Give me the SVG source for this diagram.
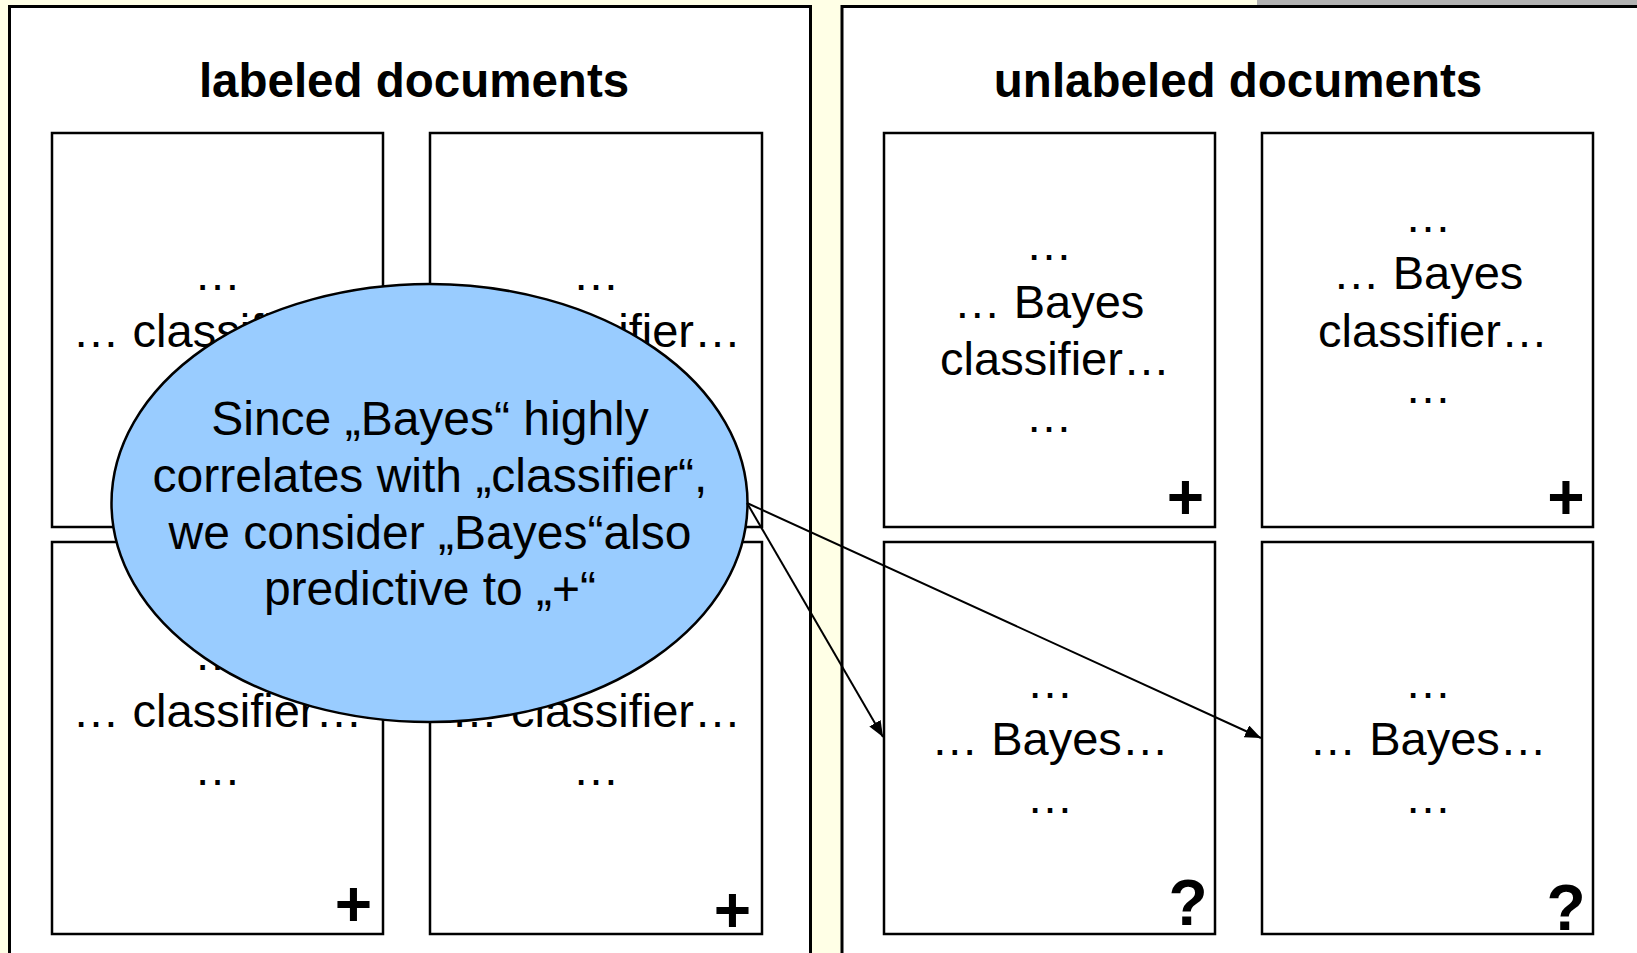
<svg xmlns="http://www.w3.org/2000/svg" width="1637" height="953" viewBox="0 0 1637 953">
  <defs>
    <style>
      .panel { fill: #FFFFFF; stroke: #000000; stroke-width: 3; }
      .doc { fill: #FFFFFF; stroke: #000000; stroke-width: 2.5; }
      .title { font-family: "Liberation Sans", Arial, sans-serif; font-weight: bold; font-size: 47.5px; fill: #000; text-anchor: middle; }
      .t { font-family: "Liberation Sans", Arial, sans-serif; font-size: 47px; fill: #000; text-anchor: middle; }
      .bubble { font-family: "Liberation Sans", Arial, sans-serif; font-size: 48px; fill: #000; text-anchor: middle; }
      .mark { font-family: "Liberation Sans", Arial, sans-serif; font-weight: bold; font-size: 64px; fill: #000; text-anchor: middle; }
      .conn { stroke: #000; stroke-width: 2; fill: none; marker-end: url(#arrow); }
    </style>
    <marker id="arrow" markerUnits="userSpaceOnUse" markerWidth="18" markerHeight="14" refX="16" refY="6.5" orient="auto">
      <path d="M0,0 L16,6.5 L0,13 z" fill="#000"/>
    </marker>
  </defs>

  <rect x="0" y="0" width="1637" height="953" fill="#FFFFE6"/>
  <rect x="1257" y="0" width="380" height="6" fill="#B2B2B2"/>

  <g id="panel-labeled">
    <rect class="panel" x="9.5" y="6.5" width="801" height="970"/>
    <text class="title" x="414" y="97">labeled documents</text>
  </g>
  <g id="panel-unlabeled">
    <rect class="panel" x="842" y="6.5" width="820" height="970"/>
    <text class="title" x="1238" y="97">unlabeled documents</text>
  </g>

  <g id="doc-l1">
    <rect class="doc" x="52" y="133" width="331" height="394"/>
    <text class="t" x="217.5" y="290">…</text>
    <text class="t" x="217.5" y="347">… classifier…</text>
  </g>
  <g id="doc-l2">
    <rect class="doc" x="430" y="133" width="332" height="394"/>
    <text class="t" x="596" y="290">…</text>
    <text class="t" x="596" y="347">… classifier…</text>
  </g>
  <g id="doc-l3">
    <rect class="doc" x="52" y="542" width="331" height="392"/>
    <text class="t" x="217.5" y="670">…</text>
    <text class="t" x="217.5" y="727">… classifier…</text>
    <text class="t" x="217.5" y="785">…</text>
    <text class="mark" x="353.5" y="926">+</text>
  </g>
  <g id="doc-l4">
    <rect class="doc" x="430" y="542" width="332" height="392"/>
    <text class="t" x="596" y="670">…</text>
    <text class="t" x="596" y="727">… classifier…</text>
    <text class="t" x="596" y="785">…</text>
    <text class="mark" x="732.5" y="932">+</text>
  </g>

  <g id="doc-u1">
    <rect class="doc" x="884" y="133" width="331" height="394"/>
    <text class="t" x="1049" y="260">…</text>
    <text class="t" x="1049" y="318">… Bayes</text>
    <text class="t" x="1055" y="375">classifier…</text>
    <text class="t" x="1049" y="432">…</text>
    <text class="mark" x="1185.5" y="519">+</text>
  </g>
  <g id="doc-u2">
    <rect class="doc" x="1262" y="133" width="331" height="394"/>
    <text class="t" x="1428" y="232">…</text>
    <text class="t" x="1428" y="289">… Bayes</text>
    <text class="t" x="1433" y="347">classifier…</text>
    <text class="t" x="1428" y="403">…</text>
    <text class="mark" x="1566" y="519">+</text>
  </g>
  <g id="doc-u3">
    <rect class="doc" x="884" y="542" width="331" height="392"/>
    <text class="t" x="1050" y="698">…</text>
    <text class="t" x="1050" y="755">… Bayes…</text>
    <text class="t" x="1050" y="813">…</text>
    <text class="mark" x="1188" y="925">?</text>
  </g>
  <g id="doc-u4">
    <rect class="doc" x="1262" y="542" width="331" height="392"/>
    <text class="t" x="1428" y="698">…</text>
    <text class="t" x="1428" y="755">… Bayes…</text>
    <text class="t" x="1428" y="813">…</text>
    <text class="mark" x="1566" y="930">?</text>
  </g>

  <g id="bubble">
    <ellipse cx="429.5" cy="503" rx="318" ry="219" fill="#99CCFF" stroke="#000" stroke-width="2.5"/>
    <text class="bubble" x="430" y="435">Since „Bayes“ highly</text>
    <text class="bubble" x="430" y="492">correlates with „classifier“,</text>
    <text class="bubble" x="430" y="548.5">we consider „Bayes“also</text>
    <text class="bubble" x="430" y="605">predictive to „+“</text>
  </g>

  <g id="connectors">
    <line class="conn" x1="747" y1="503" x2="883" y2="737"/>
    <line class="conn" x1="747" y1="503" x2="1261" y2="738"/>
  </g>
</svg>
